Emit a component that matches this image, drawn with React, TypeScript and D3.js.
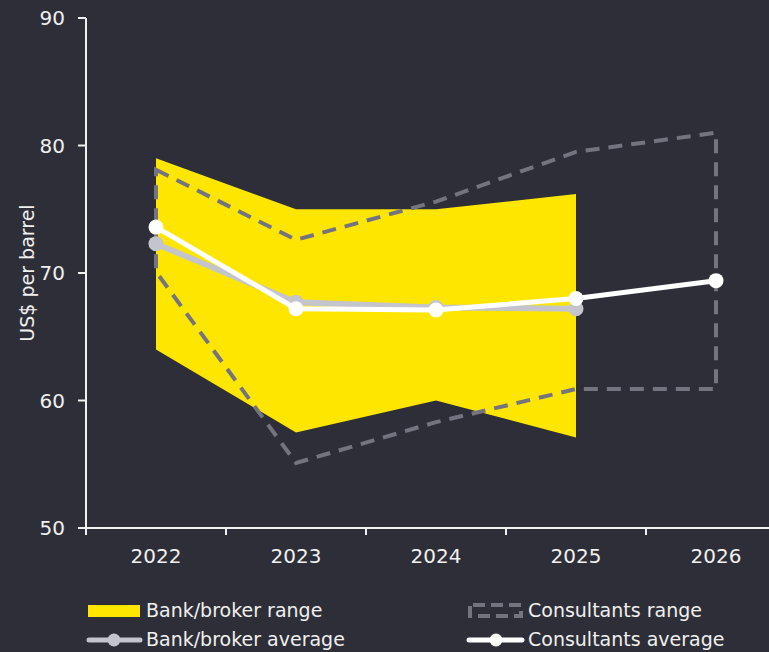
import React from "react";
import * as d3 from "d3";

// Oil price forecasts, US$ per barrel
const years = ["2022", "2023", "2024", "2025", "2026"];
const bankRangeYears = ["2022", "2023", "2024", "2025"];
const bankHigh = [79.0, 75.0, 75.0, 76.2];
const bankLow = [64.0, 57.5, 60.0, 57.1];
const bankAvgYears = ["2022", "2023", "2024", "2025"];
const bankAvg = [72.3, 67.7, 67.3, 67.2];
const consHigh = [78.1, 72.6, 75.6, 79.5, 81.0];
const consLow = [70.1, 55.1, 58.3, 60.9, 60.9];
const consAvg = [73.6, 67.2, 67.1, 68.0, 69.4];
const yTicks = [50, 60, 70, 80, 90];

const W = 769;
const H = 652;
const BG = "#2e2e38";
const YELLOW = "#ffe600";
const DASH_GRAY = "#747480";
const AVG_GRAY = "#c4c4cd";
const TEXT = "#f0f0f0";
const FONT = "'DejaVu Sans', sans-serif";

export default function App() {
  const x = d3.scaleBand<string>().domain(years).range([86, 786]).padding(0);
  const cx = (yr: string) => (x(yr) ?? 0) + x.bandwidth() / 2;
  const y = d3.scaleLinear().domain([50, 90]).range([528, 18]);

  const bankArea = d3
    .area<number>()
    .x((_, i) => cx(bankRangeYears[i]))
    .y0((_, i) => y(bankLow[i]))
    .y1((d) => y(d));

  // closed outline: top edge left to right, then bottom edge right to left
  const consPts: [number, number][] = [
    ...years.map((yr, i) => [cx(yr), y(consHigh[i])] as [number, number]),
    ...years
      .map((yr, i) => [cx(yr), y(consLow[i])] as [number, number])
      .reverse(),
  ];
  const consOutline = d3.line()(consPts) + "Z";

  const bankLine = d3
    .line<number>()
    .x((_, i) => cx(bankAvgYears[i]))
    .y((d) => y(d));
  const consLine = d3
    .line<number>()
    .x((_, i) => cx(years[i]))
    .y((d) => y(d));

  const xTickPos = years.map((yr) => x(yr) ?? 0);

  return (
    <svg
      width={W}
      height={H}
      style={{ position: "absolute", left: 0, top: 0, display: "block" }}
    >
      <rect x={0} y={0} width={W} height={H} fill={BG} />

      {/* bank/broker range */}
      <path d={bankArea(bankHigh) ?? ""} fill={YELLOW} />

      {/* consultants range */}
      <path
        d={consOutline}
        fill="none"
        stroke={DASH_GRAY}
        strokeWidth={4}
        strokeDasharray="14 9"
      />

      {/* bank/broker average */}
      <path
        d={bankLine(bankAvg) ?? ""}
        fill="none"
        stroke={AVG_GRAY}
        strokeWidth={6}
      />
      {bankAvg.map((v, i) => (
        <circle
          key={"b" + i}
          cx={cx(bankAvgYears[i])}
          cy={y(v)}
          r={7.5}
          fill={AVG_GRAY}
        />
      ))}

      {/* consultants average */}
      <path
        d={consLine(consAvg) ?? ""}
        fill="none"
        stroke="#ffffff"
        strokeWidth={5}
      />
      {consAvg.map((v, i) => (
        <circle
          key={"c" + i}
          cx={cx(years[i])}
          cy={y(v)}
          r={7.5}
          fill="#ffffff"
        />
      ))}

      {/* y axis */}
      <line x1={86} x2={86} y1={18} y2={529} stroke={TEXT} strokeWidth={2} />
      {yTicks.map((t) => (
        <g key={t}>
          <line x1={78} x2={86} y1={y(t)} y2={y(t)} stroke={TEXT} strokeWidth={2} />
          <text
            x={65}
            y={y(t)}
            dy="0.35em"
            textAnchor="end"
            fill={TEXT}
            fontFamily={FONT}
            fontSize={20}
          >
            {t}
          </text>
        </g>
      ))}
      <text
        transform={`translate(34, ${y(70)}) rotate(-90)`}
        textAnchor="middle"
        fill={TEXT}
        fontFamily={FONT}
        fontSize={19}
      >
        US$ per barrel
      </text>

      {/* x axis */}
      <line x1={85} x2={W} y1={528} y2={528} stroke={TEXT} strokeWidth={2} />
      {xTickPos.map((p, i) => (
        <line key={i} x1={p} x2={p} y1={528} y2={535} stroke={TEXT} strokeWidth={2} />
      ))}
      {years.map((yr) => (
        <text
          key={yr}
          x={cx(yr)}
          y={563}
          textAnchor="middle"
          fill={TEXT}
          fontFamily={FONT}
          fontSize={20}
        >
          {yr}
        </text>
      ))}

      {/* legend */}
      <g fontFamily={FONT} fontSize={19} fill={TEXT}>
        <rect x={88} y={605} width={52} height={12} fill={YELLOW} />
        <text x={146} y={617}>Bank/broker range</text>

        <line x1={89} x2={140} y1={640} y2={640} stroke={AVG_GRAY} strokeWidth={5} strokeLinecap="round" />
        <circle cx={114} cy={640} r={6.5} fill={AVG_GRAY} />
        <text x={146} y={646}>Bank/broker average</text>

        <rect
          x={470}
          y={605}
          width={51}
          height={11}
          fill="none"
          stroke={DASH_GRAY}
          strokeWidth={4}
          strokeDasharray="12 6"
          strokeDashoffset={-3}
        />
        <text x={528} y={617}>Consultants range</text>

        <line x1={469} x2={522} y1={640} y2={640} stroke="#ffffff" strokeWidth={5} strokeLinecap="round" />
        <circle cx={496} cy={640} r={6.5} fill="#ffffff" />
        <text x={528} y={646}>Consultants average</text>
      </g>
    </svg>
  );
}
